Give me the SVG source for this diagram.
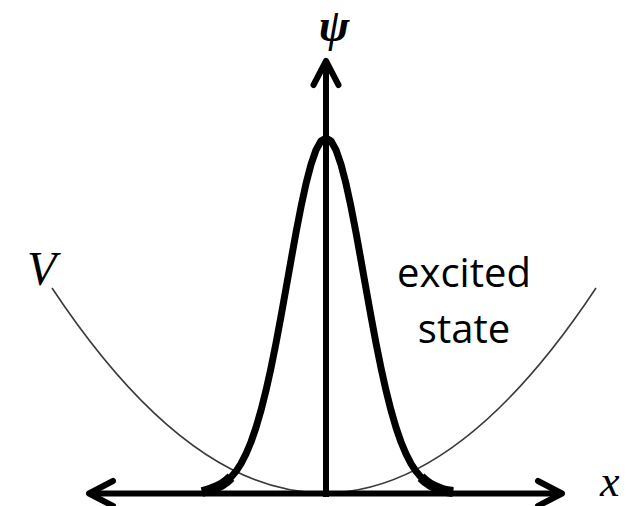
<svg xmlns="http://www.w3.org/2000/svg" width="641" height="506" viewBox="0 0 641 506">
<style>
.axis{stroke:#000;stroke-width:6;fill:none}
.pot{stroke:#3a3a3a;stroke-width:1.6;fill:none}
.psi{stroke:#000;stroke-width:7;fill:none;stroke-linejoin:round;stroke-linecap:butt}
.tail{stroke:#000;stroke-width:10;fill:none;stroke-linejoin:round;stroke-linecap:butt}
.math{font-family:"Liberation Serif","Times New Roman",serif;font-style:italic;fill:#000}
.lbl{font-family:"Open Sans","Liberation Sans",sans-serif;font-size:40px;fill:#000;text-anchor:middle}
</style>
<defs>
<marker id="arr" markerUnits="userSpaceOnUse" viewBox="-32 -18 38 36" markerWidth="38" markerHeight="36" refX="0" refY="0" orient="auto-start-reverse">
<path d="M-24,-12.5 L0,0 L-24,12.5" fill="none" stroke="#000" stroke-width="6" stroke-linecap="round" stroke-linejoin="round"/>
</marker>
</defs>
<g id="potential">
<path class="pot" d="M52,288 Q324,698 596,288"/>
</g>
<g id="wavefunction">
<path class="psi" d="M202,491 L206,490.5 L211,489.3 L216,487.5 L221,485.1 L226,481.7 L231,477.2 L236,471.3 L241,463.6 L246,453.9 L251,442 L256,427.5 L261,410.3 L266,390.4 L271,367.9 L276,343.1 L281,316.4 L286,288.5 L291,260.3 L296,232.7 L301,206.8 L306,183.7 L311,164.5 L316,150 L321,141 L326,138 L331,141 L336,150 L341,164.5 L346,183.7 L351,206.8 L356,232.7 L361,260.3 L366,288.5 L371,316.4 L376,343.1 L381,367.9 L386,390.4 L391,410.3 L396,427.5 L401,442 L406,453.9 L411,463.6 L416,471.3 L421,477.2 L426,481.7 L431,485.1 L436,487.5 L441,489.3 L446,490.5 L453,491.4"/>
<path class="tail" d="M202,492 L206,491 L211,489.5 L216,487.5 L221,485.1 L226,481.7 L231,477.2"/>
<path class="tail" d="M453,492 L446,491 L441,489.5 L436,487.5 L431,485.1 L426,481.7 L421,477.2"/>
</g>
<g id="connectors">
<line id="x-axis" class="axis" x1="89" y1="493.5" x2="562" y2="493.5" marker-start="url(#arr)" marker-end="url(#arr)"/>
<line id="y-axis" class="axis" x1="326" y1="497" x2="326" y2="61" marker-end="url(#arr)"/>
</g>
<g id="labels">
<text class="math" x="334" y="41" font-size="46" font-weight="bold" text-anchor="middle">ψ</text>
<text class="math" x="27" y="285" font-size="48">V</text>
<text class="math" x="600" y="496" font-size="44">x</text>
<text class="lbl" x="464" y="287">excited</text>
<text class="lbl" x="464" y="343">state</text>
</g>
</svg>
